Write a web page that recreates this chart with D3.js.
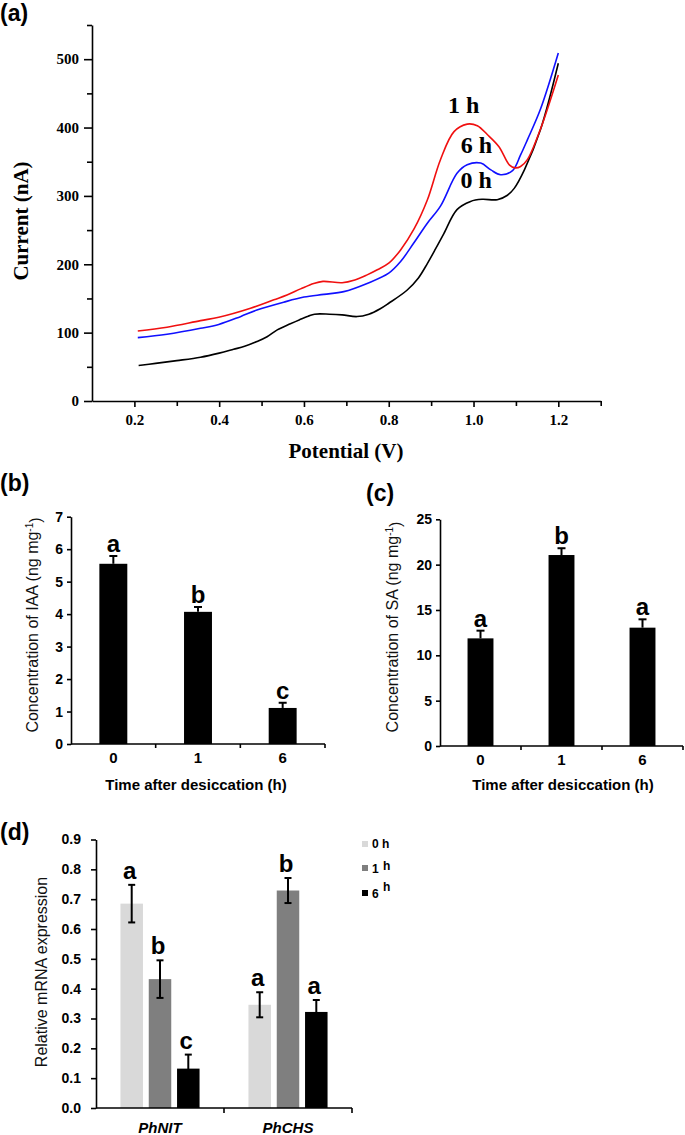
<!DOCTYPE html>
<html><head><meta charset="utf-8">
<script src="https://cdn.jsdelivr.net/npm/d3@7"></script>
<style>body{margin:0;background:#fff}</style>
</head><body><svg id="c" width="685" height="1135"></svg>
<script>
// ---------- Panel (a) data: differential pulse voltammograms ----------
const potential0h = [0.21,0.25,0.30,0.356,0.40,0.434,0.46,0.489,0.513,0.537,0.568,0.59,0.61,0.625,0.66,0.69,0.725,0.753,0.78,0.80,0.843,0.87,0.891,0.91,0.93,0.961,0.993,1.02,1.056,1.08,1.096,1.12,1.158,1.2];
const current0h   = [52,55,59,64,70,75.6,80,87,94,104,113,119,124,127,127,126,123.5,127,135,143,162,180,201,222,245,280,292,295,294.5,301,311,338,397,494];
const potential1h = [0.208,0.277,0.356,0.399,0.474,0.529,0.56,0.592,0.623,0.645,0.69,0.72,0.749,0.773,0.80,0.828,0.86,0.891,0.922,0.954,0.985,1.009,1.033,1.06,1.085,1.098,1.111,1.127,1.158,1.2];
const current1h   = [102.5,108,117.6,122.5,135.7,148,155,164,172,175,173,177,184.5,192,201.6,221,252,294,353,394,405,402.6,389.5,372,345,341,343,353,398,477];
const potential6h = [0.208,0.277,0.356,0.399,0.45,0.489,0.552,0.60,0.647,0.694,0.749,0.80,0.828,0.859,0.891,0.922,0.961,0.985,1.017,1.041,1.064,1.092,1.111,1.127,1.158,1.2];
const current6h   = [92.7,97.6,106.3,112,123.4,133,144.5,152,156,160,172,187,204,231,260,285,333,345.5,348,338,331,337,360,382,427,509];
const potMajorTicks = [0.2,0.4,0.6,0.8,1.0,1.2];
const potMinorTicks = [0.3,0.5,0.7,0.9,1.1,1.3];
const curMajorTicks = [0,100,200,300,400,500];
const curMinorTicks = [50,150,250,350,450,550];
const curveLabels = ["0 h","1 h","6 h"];

// ---------- Panel (b) IAA ----------
const timeCats = ["0","1","6"];
const iaaMeans = [5.55,4.07,1.11];
const iaaErrs = [0.24,0.15,0.16];
const iaaLetters = ["a","b","c"];
const iaaTicks = [0,1,2,3,4,5,6,7];

// ---------- Panel (c) SA ----------
const saMeans = [11.87,21.06,13.05];
const saErrs = [0.85,0.75,0.92];
const saLetters = ["a","b","a"];
const saTicks = [0,5,10,15,20,25];

// ---------- Panel (d) qRT-PCR ----------
const genes = ["PhNIT","PhCHS"];
const timePoints = ["0 h","1 h","6 h"];
const expr0h = [0.685,0.346];
const expr1h = [0.432,0.729];
const expr6h = [0.132,0.322];
const err0h = [0.063,0.042];
const err1h = [0.063,0.042];
const err6h = [0.047,0.040];
const letters0h = ["a","a"];
const letters1h = ["b","b"];
const letters6h = ["c","a"];
const exprTicks = [0,0.1,0.2,0.3,0.4,0.5,0.6,0.7,0.8,0.9];

const SERIF = "'Liberation Serif','Times New Roman',serif";
const SANS = "'Liberation Sans',Arial,sans-serif";
const svg = d3.select("#c");
svg.append("rect").attr("width",685).attr("height",1135).attr("fill","#fff");

function panelLabel(txt,x,y){
  svg.append("text").attr("x",x).attr("y",y).text(txt)
    .attr("font-family",SANS).attr("font-weight","bold").attr("font-size",23).attr("fill","#000");
}

// ================= Panel (a) =================
panelLabel("(a)",0,21);
const xa = d3.scaleLinear().domain([0.1,1.3]).range([92,600.7]);
const ya = d3.scaleLinear().domain([0,550]).range([401,25]);
const ga = svg.append("g");
function styleAxis(g,family,size){
  g.selectAll(".domain").attr("stroke","#000").attr("stroke-width",1.6);
  g.selectAll(".tick line").attr("stroke","#000").attr("stroke-width",1.6);
  g.selectAll(".tick text").attr("font-family",family).attr("font-size",size).attr("font-weight","bold").attr("fill","#000");
}
ga.append("g").attr("transform","translate(0,401)")
  .call(d3.axisBottom(xa).tickValues(potMinorTicks).tickSize(5).tickSizeOuter(0).tickFormat(""))
  .call(g=>styleAxis(g,SERIF,15));
ga.append("g").attr("transform","translate(0,401)")
  .call(d3.axisBottom(xa).tickValues(potMajorTicks).tickSize(6).tickPadding(7).tickSizeOuter(0).tickFormat(d3.format(".1f")))
  .call(g=>{g.select(".domain").remove();styleAxis(g,SERIF,15);});
ga.append("g").attr("transform","translate(92,0)")
  .call(d3.axisLeft(ya).tickValues(curMinorTicks).tickSize(5).tickSizeOuter(0).tickFormat(""))
  .call(g=>styleAxis(g,SERIF,15));
ga.append("g").attr("transform","translate(92,0)")
  .call(d3.axisLeft(ya).tickValues(curMajorTicks).tickSize(8).tickPadding(5).tickSizeOuter(0).tickFormat(d3.format("d")))
  .call(g=>{g.select(".domain").remove();styleAxis(g,SERIF,15);});

const lineA = d3.line().x(d=>xa(d[0])).y(d=>ya(d[1])).curve(d3.curveCatmullRom.alpha(0.5));
const curves = [
  {name:"0 h", pot:potential0h, cur:current0h, color:"#000000"},
  {name:"6 h", pot:potential6h, cur:current6h, color:"#1010ff"},
  {name:"1 h", pot:potential1h, cur:current1h, color:"#f01010"}
];
curves.forEach(c=>{
  ga.append("path").datum(d3.zip(c.pot,c.cur)).attr("d",lineA)
    .attr("fill","none").attr("stroke",c.color).attr("stroke-width",1.6);
});
// curve labels positioned in data space
const labelPos = {"1 h":[0.977,422],"6 h":[1.007,363],"0 h":[1.006,311]};
curveLabels.forEach(n=>{
  ga.append("text").attr("x",xa(labelPos[n][0])).attr("y",ya(labelPos[n][1])).attr("text-anchor","middle")
    .attr("font-family",SERIF).attr("font-weight","bold").attr("font-size",24).text(n);
});
ga.append("text").attr("x",346).attr("y",458).attr("text-anchor","middle")
  .attr("font-family",SERIF).attr("font-weight","bold").attr("font-size",21).text("Potential (V)");
ga.append("text").attr("transform","translate(21,221) rotate(-90)").attr("dy","0.35em").attr("text-anchor","middle")
  .attr("font-family",SERIF).attr("font-weight","bold").attr("font-size",21).text("Current (nA)");

// ================= Panels (b) and (c) =================
function hormonePanel(o){
  const g = svg.append("g");
  const x = d3.scaleBand().domain(timeCats).range([o.x0,o.x1]).padding(0);
  const y = d3.scaleLinear().domain([0,o.max]).range([o.y0,o.yTop]);
  const bw = x.step()*o.barFrac;
  g.selectAll(".bar").data(o.means).join("rect")
    .attr("x",(d,i)=>x(timeCats[i])+x.step()/2-bw/2).attr("y",d=>y(d))
    .attr("width",bw).attr("height",d=>y(0)-y(d)).attr("fill","#000");
  o.means.forEach((m,i)=>{
    const cx = x(timeCats[i])+x.step()/2;
    g.append("line").attr("x1",cx).attr("x2",cx).attr("y1",y(m)).attr("y2",y(m+o.errs[i])).attr("stroke","#000").attr("stroke-width",2);
    g.append("line").attr("x1",cx-4).attr("x2",cx+4).attr("y1",y(m+o.errs[i])).attr("y2",y(m+o.errs[i])).attr("stroke","#000").attr("stroke-width",2);
    g.append("text").attr("x",cx).attr("y",y(m+o.errs[i])-4).attr("text-anchor","middle")
      .attr("font-family",SANS).attr("font-weight","bold").attr("font-size",24).text(o.letters[i]);
  });
  g.append("g").attr("transform",`translate(${o.x0},0)`)
    .call(d3.axisLeft(y).tickValues(o.ticks).tickSize(4).tickPadding(4).tickSizeOuter(0).tickFormat(d3.format("d")))
    .call(a=>styleAxis(a,SANS,14));
  const xa2 = g.append("g").attr("transform",`translate(0,${o.y0})`);
  xa2.append("line").attr("x1",o.x0).attr("x2",o.x1).attr("stroke","#000").attr("stroke-width",1.6);
  timeCats.forEach((c,i)=>{
    const bx = x(c)+x.step();
    xa2.append("line").attr("x1",bx).attr("x2",bx).attr("y1",0).attr("y2",4).attr("stroke","#000").attr("stroke-width",1.6);
    xa2.append("text").attr("x",x(c)+x.step()/2).attr("y",19).attr("text-anchor","middle")
      .attr("font-family",SANS).attr("font-weight","bold").attr("font-size",15).text(c);
  });
  g.append("text").attr("x",o.titleX).attr("y",790).attr("text-anchor","middle")
    .attr("font-family",SANS).attr("font-weight","bold").attr("font-size",15).text("Time after desiccation (h)");
  const t = g.append("text").attr("transform",`translate(${o.yTitleX},${o.yTitleY}) rotate(-90)`).attr("dy","0.35em")
    .attr("text-anchor","middle").attr("font-family",SANS).attr("font-size",16).attr("fill","#111");
  t.append("tspan").text(o.yTitle+" (ng mg");
  t.append("tspan").attr("dy","-0.5em").attr("font-size",10).text("-1");
  t.append("tspan").attr("dy","0.5em").text(")");
}
panelLabel("(b)",0,491);
hormonePanel({x0:71,x1:325,y0:744,yTop:516.7,max:7,ticks:iaaTicks,means:iaaMeans,errs:iaaErrs,letters:iaaLetters,
  barFrac:0.33,titleX:196,yTitleX:32,yTitleY:625,yTitle:"Concentration of IAA"});
panelLabel("(c)",366,501);
hormonePanel({x0:440,x1:683,y0:746,yTop:519.3,max:25,ticks:saTicks,means:saMeans,errs:saErrs,letters:saLetters,
  barFrac:0.32,titleX:563,yTitleX:392,yTitleY:627,yTitle:"Concentration of SA"});

// ================= Panel (d) =================
panelLabel("(d)",0,840);
const gd = svg.append("g");
const xd = d3.scaleBand().domain(genes).range([96,352]).padding(0);
const xd1 = d3.scaleBand().domain(timePoints).range([0,79.1]).paddingInner(0.205).paddingOuter(0);
const yd = d3.scaleLinear().domain([0,0.9]).range([1108,839.5]);
const dColors = {"0 h":"#d9d9d9","1 h":"#7f7f7f","6 h":"#000000"};
const dSeries = [
  {t:"0 h",vals:expr0h,errs:err0h,letters:letters0h},
  {t:"1 h",vals:expr1h,errs:err1h,letters:letters1h},
  {t:"6 h",vals:expr6h,errs:err6h,letters:letters6h}
];
dSeries.forEach(s=>{
  genes.forEach((gn,i)=>{
    const bx = xd(gn)+xd.step()/2-39.55+xd1(s.t);
    const cx = bx+xd1.bandwidth()/2;
    const v = s.vals[i], e = s.errs[i];
    gd.append("rect").attr("x",bx).attr("y",yd(v)).attr("width",xd1.bandwidth()).attr("height",yd(0)-yd(v)).attr("fill",dColors[s.t]);
    gd.append("line").attr("x1",cx).attr("x2",cx).attr("y1",yd(v-e)).attr("y2",yd(v+e)).attr("stroke","#000").attr("stroke-width",2);
    [v-e,v+e].forEach(yy=>gd.append("line").attr("x1",cx-3.5).attr("x2",cx+3.5).attr("y1",yd(yy)).attr("y2",yd(yy)).attr("stroke","#000").attr("stroke-width",2));
    gd.append("text").attr("x",cx-2).attr("y",yd(v+e)-6).attr("text-anchor","middle")
      .attr("font-family",SANS).attr("font-weight","bold").attr("font-size",24).text(s.letters[i]);
  });
});
gd.append("g").attr("transform","translate(96,0)")
  .call(d3.axisLeft(yd).tickValues(exprTicks).tickSize(5).tickPadding(10).tickSizeOuter(0).tickFormat(d3.format(".1f")))
  .call(a=>styleAxis(a,SANS,14));
const xdAxis = gd.append("g").attr("transform","translate(0,1108)");
xdAxis.append("line").attr("x1",96).attr("x2",352).attr("stroke","#000").attr("stroke-width",1.6);
genes.forEach(gn=>{
  const bx = xd(gn)+xd.step();
  xdAxis.append("line").attr("x1",bx).attr("x2",bx).attr("y1",0).attr("y2",5).attr("stroke","#000").attr("stroke-width",1.6);
  xdAxis.append("text").attr("x",xd(gn)+xd.step()/2).attr("y",25).attr("text-anchor","middle")
    .attr("font-family",SANS).attr("font-weight","bold").attr("font-style","italic").attr("font-size",15).text(gn);
});
gd.append("text").attr("transform","translate(41,972) rotate(-90)").attr("dy","0.35em").attr("text-anchor","middle")
  .attr("font-family",SANS).attr("font-size",16).attr("fill","#111").text("Relative mRNA expression");
const legY = {"0 h":844,"1 h":868,"6 h":893};
timePoints.forEach((t,i)=>{
  gd.append("rect").attr("x",362).attr("y",legY[t]-3).attr("width",6).attr("height",6).attr("fill",dColors[t]);
  const parts = t.split(" ");
  const tx = gd.append("text").attr("font-family",SANS).attr("font-weight","bold").attr("font-size",12);
  if(i===0){
    tx.attr("x",372).attr("y",legY[t]+4).text(t);
  } else {
    tx.append("tspan").attr("x",372).attr("y",legY[t]+5).text(parts[0]);
    tx.append("tspan").attr("x",383).attr("y",legY[t]+(i===1?2:-2)).text(parts[1]);
  }
});
</script></body></html>
